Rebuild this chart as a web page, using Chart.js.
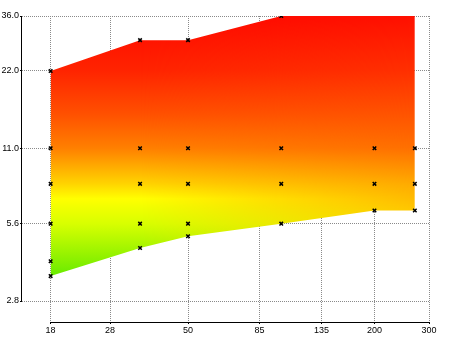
<!DOCTYPE html>
<html><head><meta charset="utf-8">
<script src="https://cdn.jsdelivr.net/npm/chart.js@4/dist/chart.umd.min.js"></script>
<style>html,body{margin:0;padding:0;background:#fff}#wrap{width:450px;height:337px}</style>
</head><body><div id="wrap"><canvas id="c" width="450" height="337"></canvas></div>
<script>
// Boundary of the coloured region
const focalLengths = [18, 35, 50, 100, 200, 270];
const lowerF = [3.5, 4.5, 5, 5.6, 6.3, 6.3];
const upperF = [22, 29, 29, 36, 36, 36];
// Measured sample points (x markers)
const sampleFocal = [18,18,18,18,18,18, 35,35,35,35,35, 50,50,50,50,50, 100,100,100,100, 200,200,200, 270,270,270];
const sampleF     = [22,11,8,5.6,4,3.5, 29,11,8,5.6,4.5, 29,11,8,5.6,5, 36,11,8,5.6, 11,8,6.3, 11,8,6.3];
// Axis ticks
const xTicks = [18, 28, 50, 85, 135, 200, 300];
const yTicks = [2.8, 5.6, 11, 22, 36];
// Colour stops (f-number -> colour) at left and right edges
const leftStopF   = [36, 22, 15, 11, 8, 7, 5.6, 4, 3.4];
const leftStopC   = ['#ff0800','#ff2400','#ff5000','#ff8000','#ffd400','#ffff00','#d8ff00','#88f000','#60ea00'];
const rightStopF  = [36, 22, 11, 8, 6.3, 5];
const rightStopC  = ['#ff1000','#ff3000','#ff7000','#ffaa00','#ffc800','#ffe000'];

const FONT = '"Liberation Sans", Arial, sans-serif';

let cache = null;
function fillPattern(context){
  const chart = context.chart;
  const ca = chart.chartArea, sc = chart.scales;
  if (!ca || !sc.x || !sc.y) return 'rgba(0,0,0,0)';
  const key = [ca.left, ca.top, ca.right, ca.bottom].join(',');
  if (cache && cache.key === key) return cache.pattern;
  const w = chart.width, h = chart.height;
  const yTop = sc.y.getPixelForValue(40), yBot = sc.y.getPixelForValue(2.3);
  function profile(fs, cs){
    const c = document.createElement('canvas'); c.width = w; c.height = h;
    const g = c.getContext('2d');
    const gr = g.createLinearGradient(0, yTop, 0, yBot);
    fs.forEach((v, i) => {
      const p = sc.y.getPixelForValue(v);
      gr.addColorStop(Math.min(1, Math.max(0, (p - yTop) / (yBot - yTop))), cs[i]);
    });
    g.fillStyle = gr; g.fillRect(0, 0, w, h);
    return c;
  }
  const left = profile(leftStopF, leftStopC);
  const right = profile(rightStopF, rightStopC);
  const rg = right.getContext('2d');
  rg.globalCompositeOperation = 'destination-in';
  const x0 = sc.x.getPixelForValue(35), x1 = sc.x.getPixelForValue(270);
  const m = rg.createLinearGradient(x0, 0, x1, 0);
  m.addColorStop(0, 'rgba(0,0,0,0)'); m.addColorStop(1, 'rgba(0,0,0,1)');
  rg.fillStyle = m; rg.fillRect(0, 0, w, h);
  left.getContext('2d').drawImage(right, 0, 0);
  const pattern = chart.ctx.createPattern(left, 'no-repeat');
  cache = { key, pattern };
  return pattern;
}

// Axis lines that span only from the first to the last tick
const axisLines = {
  id: 'axisLines',
  afterDraw(chart) {
    const { ctx, chartArea: ca, scales: { x, y } } = chart;
    ctx.save();
    ctx.strokeStyle = '#000'; ctx.lineWidth = 1;
    ctx.beginPath();
    const lx = Math.round(ca.left) - 0.5;
    ctx.moveTo(lx, Math.round(y.getPixelForValue(yTicks[yTicks.length - 1])));
    ctx.lineTo(lx, Math.round(y.getPixelForValue(yTicks[0])) + 0.5);
    const by = Math.round(ca.bottom) + 0.5;
    ctx.moveTo(Math.round(x.getPixelForValue(xTicks[0])), by);
    ctx.lineTo(Math.round(x.getPixelForValue(xTicks[xTicks.length - 1])) + 0.5, by);
    ctx.stroke();
    ctx.restore();
  }
};

const markers = sampleFocal.map((x, i) => ({ x, y: sampleF[i] }));
const upper = focalLengths.map((x, i) => ({ x, y: upperF[i] }));
const lower = focalLengths.map((x, i) => ({ x, y: lowerF[i] }));

new Chart(document.getElementById('c'), {
  type: 'line',
  data: {
    datasets: [
      { data: markers, showLine: false, pointStyle: 'crossRot', pointRadius: 2.5,
        pointBorderColor: '#000', pointBorderWidth: 1.5, borderColor: '#000' },
      { data: upper, fill: '+1', backgroundColor: fillPattern, borderWidth: 0, pointRadius: 0, tension: 0 },
      { data: lower, fill: false, borderWidth: 0, pointRadius: 0, tension: 0 }
    ]
  },
  plugins: [axisLines],
  options: {
    responsive: false, animation: false, events: [],
    layout: { padding: { top: 16, right: 21, left: 0, bottom: 0 } },
    plugins: { legend: { display: false }, tooltip: { enabled: false } },
    scales: {
      x: {
        type: 'logarithmic', min: 14.55, max: 300, z: 1,
        afterBuildTicks: s => { s.ticks = xTicks.map(v => ({ value: v })); },
        afterFit: s => { s.height = 15; },
        ticks: { autoSkip: false, maxRotation: 0, padding: 1, color: '#000',
          font: { family: FONT, size: 9 }, callback: v => String(v) },
        grid: { color: '#8a8a8a', tickColor: '#000', tickLength: 2, lineWidth: 1 },
        border: { display: false, color: '#000', width: 1, dash: [1, 1] }
      },
      y: {
        type: 'logarithmic', min: 2.32, max: 36, z: 1,
        afterBuildTicks: s => { s.ticks = yTicks.map(v => ({ value: v })); },
        afterFit: s => { s.width = 22; },
        ticks: { autoSkip: false, padding: 1, color: '#000',
          font: { family: FONT, size: 9 }, callback: v => Number(v).toFixed(1) },
        grid: { color: '#8a8a8a', tickColor: '#000', tickLength: 2, lineWidth: 1 },
        border: { display: false, color: '#000', width: 1, dash: [1, 1] }
      }
    }
  }
});
</script></body></html>
